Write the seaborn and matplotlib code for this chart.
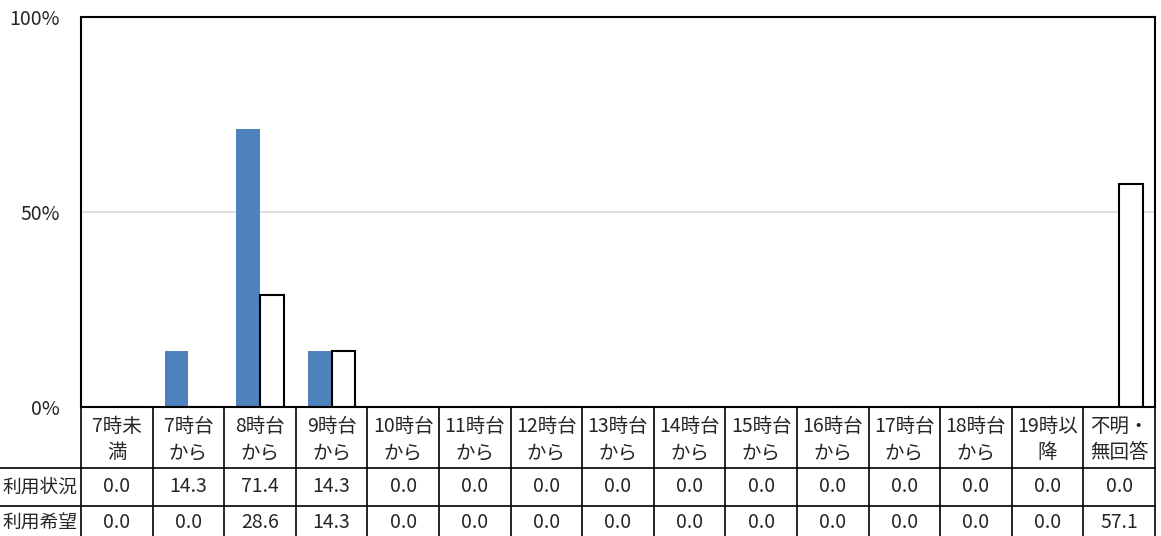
import matplotlib
matplotlib.use("Agg")
import matplotlib.pyplot as plt
import seaborn as sns
import pandas as pd

# categories (two header lines each)
head_top = ["7時未", "7時台", "8時台", "9時台", "10時台", "11時台", "12時台", "13時台",
            "14時台", "15時台", "16時台", "17時台", "18時台", "19時以", "不明・"]
head_bot = ["満", "から", "から", "から", "から", "から", "から", "から",
            "から", "から", "から", "から", "から", "降", "無回答"]
categories = [a + b for a, b in zip(head_top, head_bot)]

series_names = ["利用状況", "利用希望"]
usage = [0.0, 14.3, 71.4, 14.3, 0.0, 0.0, 0.0, 0.0, 0.0, 0.0, 0.0, 0.0, 0.0, 0.0, 0.0]
wish = [0.0, 0.0, 28.6, 14.3, 0.0, 0.0, 0.0, 0.0, 0.0, 0.0, 0.0, 0.0, 0.0, 0.0, 57.1]
yticks = [0, 50, 100]

sns.set_theme(style="white")
plt.rcParams['font.family'] = ['Noto Sans CJK JP', 'DejaVu Sans']
FS = 14

df = pd.DataFrame({
    "cat": categories * 2,
    "series": [series_names[0]] * len(categories) + [series_names[1]] * len(categories),
    "value": usage + wish,
})

W, H = 1161, 536
fig = plt.figure(figsize=(W / 100, H / 100), dpi=100)
L, R, T, B = 81, 1155, 17, 407
ax = fig.add_axes([L / W, (H - B) / H, (R - L) / W, (B - T) / H])

sns.barplot(data=df, x="cat", y="value", hue="series", order=categories,
            hue_order=series_names, palette=["#4F81BD", "white"],
            width=0.66, legend=False, ax=ax, saturation=1)
for p in ax.containers[0]:
    p.set_edgecolor("none")
for p in ax.containers[1]:
    p.set_edgecolor("black")
    p.set_linewidth(1.5)

ax.set_xlim(-0.5, len(categories) - 0.5)
ax.set_ylim(0, 100)
ax.set_yticks(yticks)
ax.set_yticklabels([f"{v}%" for v in yticks], fontsize=FS)
ax.tick_params(axis='y', length=0, pad=15)
ax.set_xticks([])
ax.set_xlabel("")
ax.set_ylabel("")
ax.axhline(50, color="#D9D9D9", linewidth=1.2, zorder=0)
for s in ax.spines.values():
    s.set_color("black")
    s.set_linewidth(1.5)

# data table below the plot
tax = fig.add_axes([L / W, 0, (R - L) / W, (H - B) / H])
tax.set_xlim(-0.5, len(categories) - 0.5)
tax.set_ylim(H, B)
tax.axis("off")
n = len(categories)
for i in range(n + 1):
    tax.plot([i - 0.5, i - 0.5], [B, H], color="black", lw=1.2, clip_on=False)
row_lines = [468, 506]
for y in row_lines:
    tax.plot([-0.5 - L / ((R - L) / n), n - 0.5], [y, y], color="black", lw=1.2, clip_on=False)
for i in range(n):
    tax.text(i, 426, head_top[i], ha="center", va="center", fontsize=FS)
    tax.text(i, 453, head_bot[i], ha="center", va="center", fontsize=FS)
    tax.text(i, 487, f"{usage[i]:.1f}", ha="center", va="center", fontsize=FS)
    tax.text(i, 523, f"{wish[i]:.1f}", ha="center", va="center", fontsize=FS)
# row labels, placed at the left edge of the figure
fig.text(2 / W, 1 - 487 / H, series_names[0], ha="left", va="center", fontsize=FS - 0.5)
fig.text(2 / W, 1 - 523 / H, series_names[1], ha="left", va="center", fontsize=FS - 0.5)

fig.savefig("out.png", dpi=100)
